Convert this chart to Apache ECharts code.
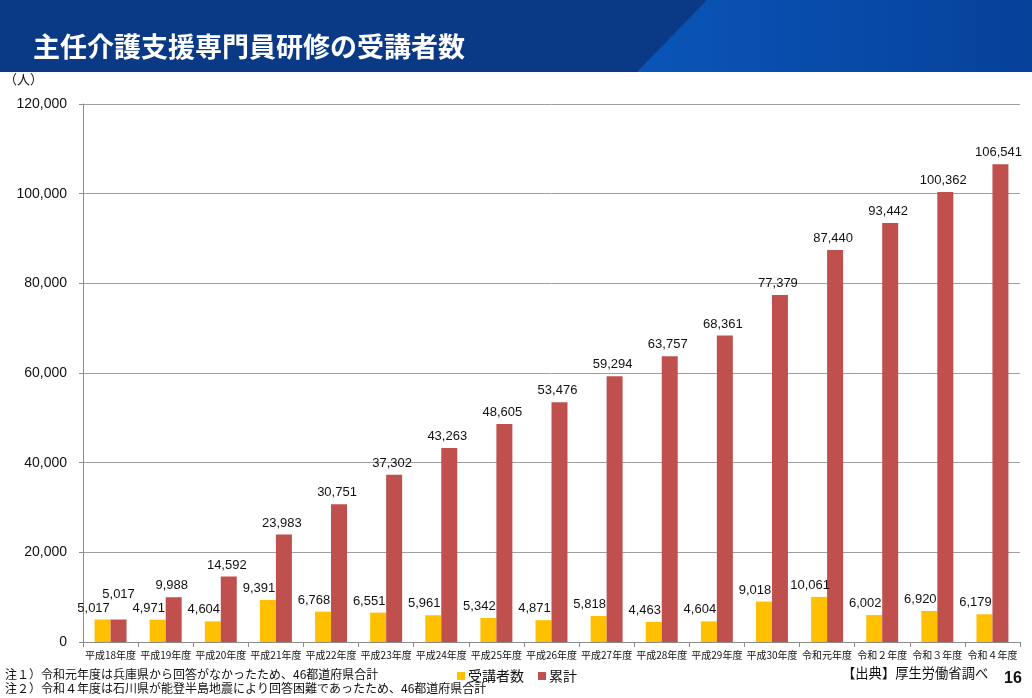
<!DOCTYPE html>
<html>
<head>
<meta charset="utf-8">
<script src="https://cdn.jsdelivr.net/npm/echarts@6/dist/echarts.min.js"></script>
<style>
html,body{margin:0;padding:0;background:#fff;}
#chart{width:1032px;height:698px;}
</style>
</head>
<body>
<div id="chart"></div>
<script>
const titleText = '主任介護支援専門員研修の受講者数';
const categories = ['平成18年度','平成19年度','平成20年度','平成21年度','平成22年度','平成23年度','平成24年度','平成25年度','平成26年度','平成27年度','平成28年度','平成29年度','平成30年度','令和元年度','令和２年度','令和３年度','令和４年度'];
const seriesNames = ['受講者数','累計'];
const annual = [5017,4971,4604,9391,6768,6551,5961,5342,4871,5818,4463,4604,9018,10061,6002,6920,6179];
const cumulative = [5017,9988,14592,23983,30751,37302,43263,48605,53476,59294,63757,68361,77379,87440,93442,100362,106541];
const yTicks = [0,20000,40000,60000,80000,100000,120000];
const unitText = '（人）';
const notes = ['注１）令和元年度は兵庫県から回答がなかったため、46都道府県合計','注２）令和４年度は石川県が能登半島地震により回答困難であったため、46都道府県合計'];
const sourceText = '【出典】厚生労働省調べ';
const pageNo = '16';

const fmt = v => v.toLocaleString('en-US');
const jp = "'Noto Sans CJK JP','Noto Sans',sans-serif";
const num = "'Liberation Sans',Arial,sans-serif";

const chart = echarts.init(document.getElementById('chart'), null, {renderer:'canvas'});

const cumData = cumulative.map((v,i)=> i===0 ? {value:v, label:{offset:[0,-14]}} : v);

chart.setOption({
  animation:false,
  backgroundColor:'#ffffff',
  graphic:[
    {type:'rect', shape:{x:0,y:0,width:1032,height:72}, style:{fill:'#0a3a86'}, z:0},
    {type:'polygon', shape:{points:[[707,0],[1032,0],[1032,72],[637,72]]},
      style:{fill:new echarts.graphic.LinearGradient(0,0,1,0,[{offset:0,color:'#0a55b8'},{offset:1,color:'#06419a'}])}, z:1},
    {type:'text', left:33, top:33, style:{text:titleText, fill:'#ffffff', font:"bold 27px "+jp}, z:2},
    {type:'text', left:4, top:73, style:{text:unitText, fill:'#111', font:"13px "+jp}},
    {type:'text', left:5, top:668, style:{text:notes[0], fill:'#111', font:"12px "+jp}},
    {type:'text', left:5, top:682, style:{text:notes[1], fill:'#111', font:"12px "+jp}},
    {type:'text', left:842, top:666, style:{text:sourceText, fill:'#111', font:"13.3px "+jp}},
    {type:'text', left:1004, top:671, style:{text:pageNo, fill:'#111', font:"bold 16px "+num}}
  ],
  legend:{
    left:452, top:664, itemWidth:8, itemHeight:8, itemGap:14, icon:'rect',
    textStyle:{fontFamily:jp, fontSize:14, color:'#111', padding:[0,0,0,-2]},
    data:seriesNames
  },
  grid:{left:83, right:12, top:104, bottom:56, containLabel:false},
  xAxis:{
    type:'category', data:categories, boundaryGap:true,
    axisLine:{lineStyle:{color:'#8c8c8c', width:1}},
    axisTick:{show:true, length:5, lineStyle:{color:'#8c8c8c'}},
    axisLabel:{interval:0, fontFamily:jp, fontSize:10, color:'#111', margin:8}
  },
  yAxis:{
    type:'value', min:yTicks[0], max:yTicks[yTicks.length-1], interval:yTicks[1]-yTicks[0],
    axisLine:{show:true, lineStyle:{color:'#8c8c8c'}},
    axisTick:{show:true, length:4, lineStyle:{color:'#8c8c8c'}},
    splitLine:{show:true, lineStyle:{color:'#a0a0a0', width:1}},
    axisLabel:{fontFamily:num, fontSize:14, color:'#111', margin:16, formatter:v=>fmt(v)}
  },
  series:[
    {name:seriesNames[0], type:'bar', data:annual, barGap:'0%', barCategoryGap:'42%',
      itemStyle:{color:'#FFC000'},
      label:{show:true, position:'top', distance:5, offset:[-9,0], fontFamily:num, fontSize:13, color:'#111', formatter:p=>fmt(p.value)}},
    {name:seriesNames[1], type:'bar', data:cumData, barGap:'0%', barCategoryGap:'42%',
      itemStyle:{color:'#C0504D'},
      label:{show:true, position:'top', distance:5, offset:[-2,0], fontFamily:num, fontSize:13, color:'#111', formatter:p=>fmt(p.value)}}
  ]
});
</script>
</body>
</html>
